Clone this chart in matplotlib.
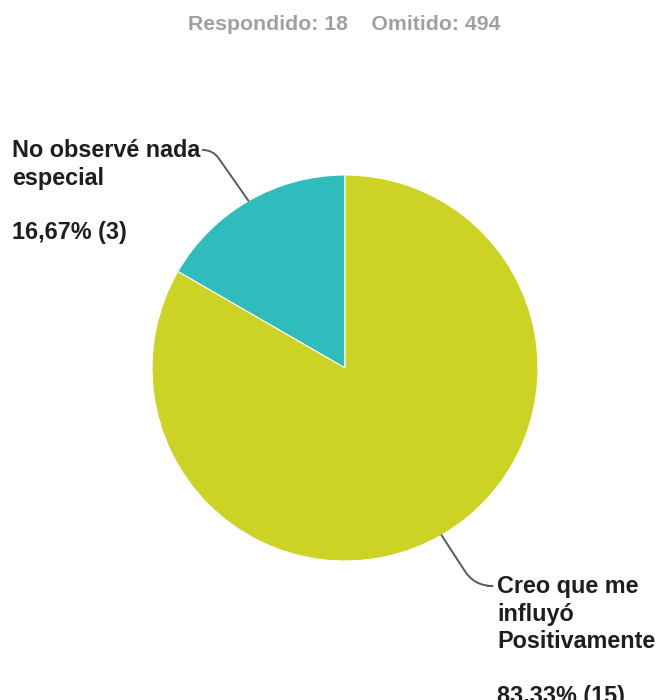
import numpy as np
import matplotlib
matplotlib.use("Agg")
import matplotlib.pyplot as plt

categories = ["No observé nada\nespecial", "Creo que me\ninfluyó\nPositivamente"]
counts = [3, 15]
pct_labels = ["16,67% (3)", "83,33% (15)"]
colors = ["#30bcbc", "#cdd324"]
title_text = "Respondido: 18    Omitido: 494"

W, H = 656, 700
fig = plt.figure(figsize=(W / 100, H / 100), dpi=100)
ax = fig.add_axes([0, 0, 1, 1])

def py(y):
    return H - y

cx, cy, R = 345, py(368), 193
wedges, _ = ax.pie(counts, colors=colors, startangle=90, counterclock=True,
                   center=(cx, cy), radius=R, frame=True,
                   wedgeprops=dict(edgecolor="white", linewidth=0.8))
ax.set_xlim(0, W)
ax.set_ylim(0, H)
ax.set_aspect("equal")
ax.axis("off")

font = "Liberation Sans"
txtcol = "#1e1e1e"
ax.text(344, py(25), title_text, ha="center", va="center", fontsize=15.3,
        fontweight="bold", color="#a0a0a0", family=font)

# label positions (layout)
label_pos = [(12, py(139)), (497, py(575))]
line_start = [(204, py(150)), (488, py(586))]
conn = ["angle,angleA=0,angleB=125,rad=10", "angle,angleA=0,angleB=123,rad=18"]

for i, w in enumerate(wedges):
    mid = np.deg2rad((w.theta1 + w.theta2) / 2)
    px_, py_ = cx + R * np.cos(mid), cy + R * np.sin(mid)
    x, y = label_pos[i]
    ax.text(x, y, categories[i] + "\n\n" + pct_labels[i], ha="left", va="top",
            fontsize=16.8, fontweight="bold", color=txtcol, family=font,
            linespacing=1.25)
    ax.annotate("", xy=(px_, py_), xytext=line_start[i],
                arrowprops=dict(arrowstyle="-", color="#5a5a5a", lw=1.4,
                                connectionstyle=conn[i], shrinkA=0, shrinkB=0))

fig.savefig("out.png", dpi=100)
